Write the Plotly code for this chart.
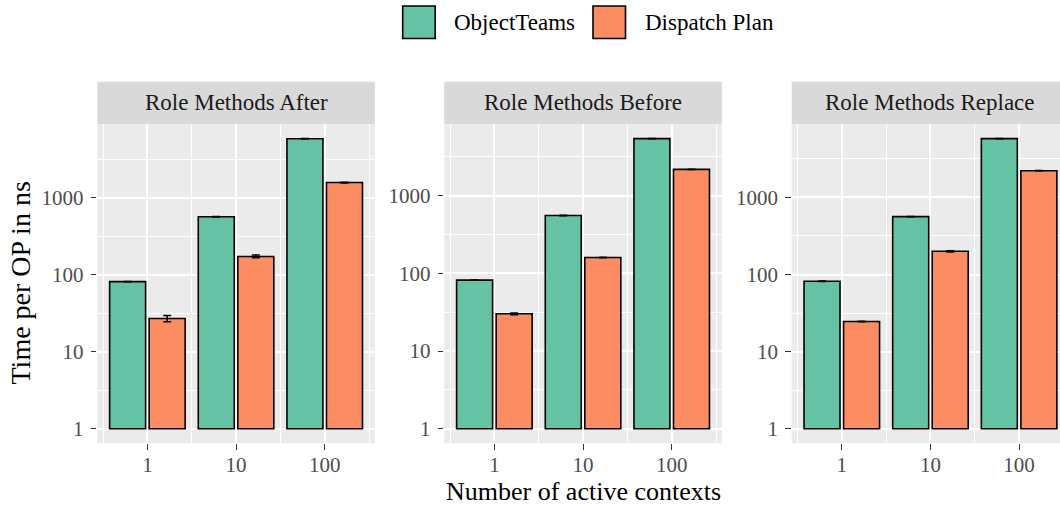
import math
import plotly.graph_objects as go
from plotly.subplots import make_subplots

# ---- data -------------------------------------------------------------
contexts = ["1", "10", "100"]
facet_titles = ["Role Methods After", "Role Methods Before", "Role Methods Replace"]
series_names = ["ObjectTeams", "Dispatch Plan"]

# mean time per operation in ns and its spread, one list per facet/series
after_ot = [81.5, 566, 5850]
after_ot_sd = [0.5, 3, 30]
after_dp = [27.0, 173, 1575]
after_dp_sd = [2.5, 7, 20]

before_ot = [81.8, 555, 5420]
before_ot_sd = [0.5, 3, 20]
before_dp = [30.2, 160, 2180]
before_dp_sd = [0.8, 1, 10]

replace_ot = [81.9, 564, 5780]
replace_ot_sd = [0.5, 3, 20]
replace_dp = [24.6, 200, 2220]
replace_dp_sd = [0.2, 4, 10]

y_tick_values = [1, 10, 100, 1000]
y_tick_labels = ["1", "10", "100", "1000"]

# ---- style ------------------------------------------------------------
GREEN = "#66C2A5"
ORANGE = "#FC8D62"
PANEL_BG = "#EBEBEB"
STRIP_BG = "#D9D9D9"
FONT = "Liberation Serif"
W, H = 1060, 507

# panel geometry in pixels
panel_left = [97.3, 444.3, 791.7]
panel_w = 277.5
panel_top, panel_bottom = 124.0, 443.3
strip_top = 81.7
x_expand = 0.565
px_per_unit = panel_w / (2 + 2 * x_expand)
bar_w = 0.406
bar_gap = 0.04

panels = [
    (after_ot, after_ot_sd, after_dp, after_dp_sd),
    (before_ot, before_ot_sd, before_dp, before_dp_sd),
    (replace_ot, replace_ot_sd, replace_dp, replace_dp_sd),
]

fig = make_subplots(rows=1, cols=3)
positions = list(range(len(contexts)))

for i, (ot, ot_sd, dp, dp_sd) in enumerate(panels):
    col = i + 1
    for name, vals, sds, color, offset in [
        (series_names[0], ot, ot_sd, GREEN, -(bar_w + bar_gap / 2)),
        (series_names[1], dp, dp_sd, ORANGE, bar_gap / 2),
    ]:
        fig.add_trace(
            go.Bar(
                x=positions,
                y=[v - 1 for v in vals],  # bars grow from 1 on the log axis
                base=1,
                offset=offset,
                width=bar_w,
                name=name,
                showlegend=False,
                marker=dict(color=color, line=dict(color="black", width=1.6)),
                error_y=dict(
                    type="data", array=sds, arrayminus=sds, symmetric=False,
                    color="black", thickness=1.5, width=4,
                ),
                customdata=vals,
                hovertemplate="%{customdata}<extra>" + name + "</extra>",
            ),
            row=1, col=col,
        )

    # free y scale per facet with 5% expansion in log space
    top = math.log10(max(max(v + s for v, s in zip(ot, ot_sd)),
                         max(v + s for v, s in zip(dp, dp_sd))))
    y_range = [-0.05 * top, 1.05 * top]

    x0 = panel_left[i]
    x1 = min(x0 + panel_w, W)
    x_range = [-x_expand, -x_expand + (x1 - x0) / px_per_unit]

    fig.update_xaxes(
        row=1, col=col,
        domain=[x0 / W, x1 / W],
        range=x_range,
        tickmode="array", tickvals=positions, ticktext=contexts,
        showgrid=True, gridcolor="white", gridwidth=1.9,
        minor=dict(tick0=-0.5, dtick=1, showgrid=True, gridcolor="white",
                   gridwidth=0.9, ticks=""),
        ticks="outside", ticklen=5.5, tickwidth=1.2, tickcolor="#333333",
        tickfont=dict(family=FONT, size=21, color="#4D4D4D"),
        ticklabelstandoff=-3,
        zeroline=False, showline=False, fixedrange=True,
    )
    fig.update_yaxes(
        row=1, col=col,
        type="log",
        domain=[(H - panel_bottom) / H, (H - panel_top) / H],
        range=y_range,
        tickmode="array", tickvals=y_tick_values, ticktext=y_tick_labels,
        showgrid=True, gridcolor="white", gridwidth=1.9,
        minor=dict(tick0=0, dtick=0.5, showgrid=True, gridcolor="white",
                   gridwidth=0.9, ticks=""),
        ticks="outside", ticklen=5.5, tickwidth=1.2, tickcolor="#333333",
        tickfont=dict(family=FONT, size=21, color="#4D4D4D"),
        ticklabelstandoff=3,
        zeroline=False, showline=False, fixedrange=True,
    )

    # facet strip
    xref = "x domain" if i == 0 else f"x{col} domain"
    yref = "y domain" if i == 0 else f"y{col} domain"
    ph = panel_bottom - panel_top
    fig.add_shape(
        type="rect", xref=xref, yref=yref,
        x0=0, x1=1, y0=1, y1=1 + (panel_top - strip_top) / ph,
        fillcolor=STRIP_BG, line=dict(width=0), layer="below",
    )
    fig.add_annotation(
        xref=xref, yref=yref,
        x=(panel_w / 2) / (x1 - x0), y=1 + (panel_top - strip_top) / 2 / ph,
        text=facet_titles[i], showarrow=False,
        font=dict(family=FONT, size=23, color="#1A1A1A"),
        xanchor="center", yanchor="middle",
    )

# axis titles
fig.add_annotation(
    xref="paper", yref="paper", x=583 / W, y=(H - 491) / H,
    text="Number of active contexts", showarrow=False,
    font=dict(family=FONT, size=26, color="black"),
    xanchor="center", yanchor="middle",
)
fig.add_annotation(
    xref="paper", yref="paper", x=20 / W, y=(H - 283.5) / H,
    text="Time per OP in ns", showarrow=False, textangle=-90,
    font=dict(family=FONT, size=28, color="black"),
    xanchor="center", yanchor="middle",
)

# legend: keys and labels across the top
legend_items = [
    (series_names[0], GREEN, 402.7),
    (series_names[1], ORANGE, 593.0),
]
key = 32.5
for label, color, kx in legend_items:
    fig.add_shape(
        type="rect", xref="paper", yref="paper",
        x0=kx / W, x1=(kx + key) / W,
        y0=(H - 38.5) / H, y1=(H - 6) / H,
        fillcolor=color, line=dict(color="black", width=1.6),
    )
    fig.add_annotation(
        xref="paper", yref="paper", x=(kx + key + 17) / W, y=(H - 22) / H,
        text=label, showarrow=False,
        font=dict(family=FONT, size=23, color="black"),
        xanchor="left", yanchor="middle",
    )

fig.update_layout(
    width=W, height=H,
    margin=dict(l=0, r=0, t=0, b=0),
    barmode="overlay",
    plot_bgcolor=PANEL_BG,
    paper_bgcolor="white",
    showlegend=False,
)

fig.write_html("out.html")
